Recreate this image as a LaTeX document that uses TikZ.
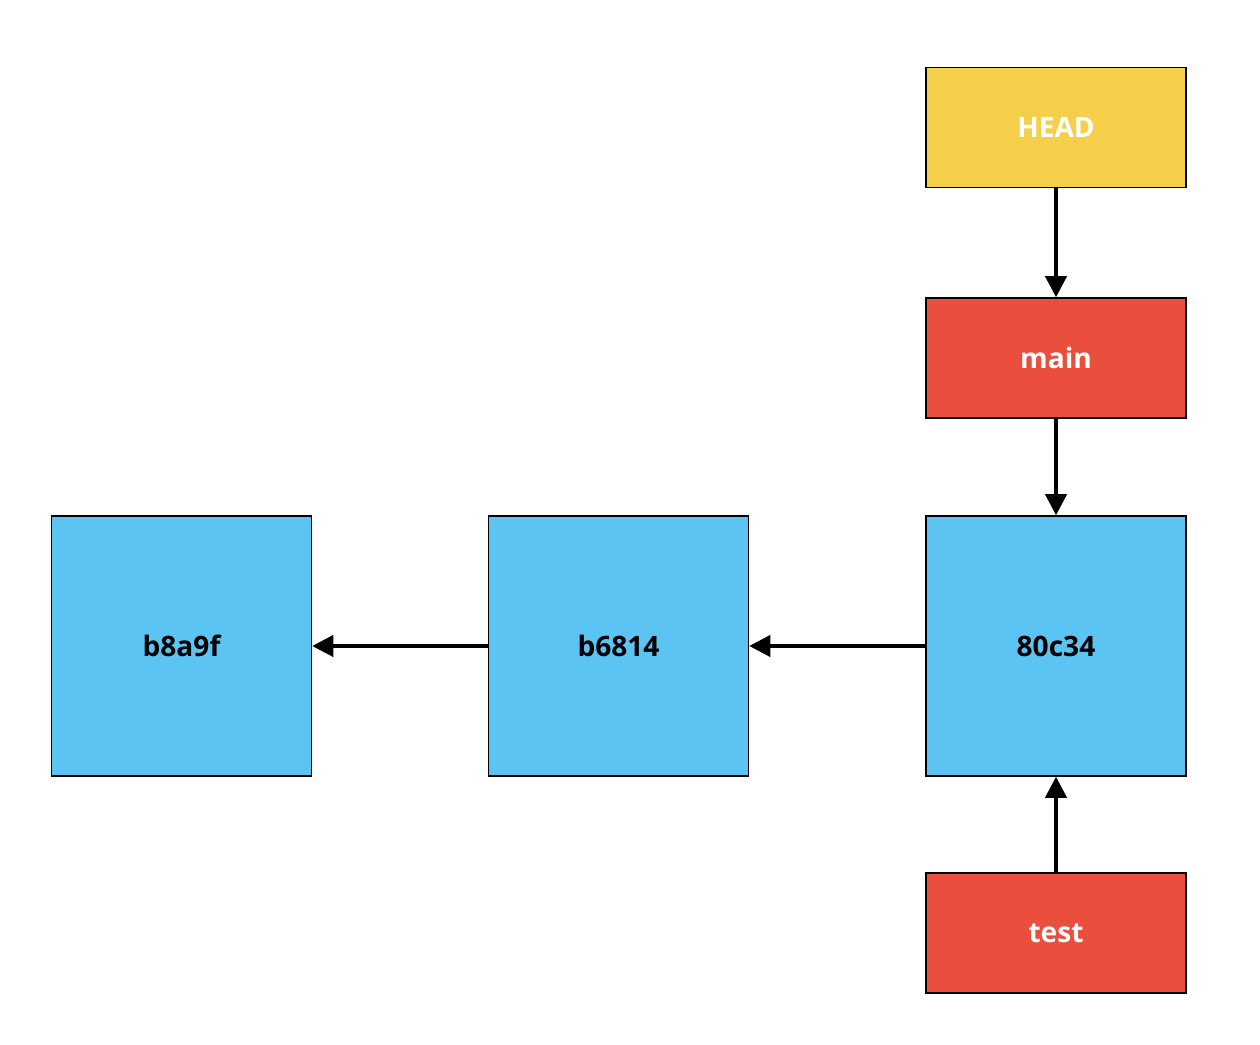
\documentclass[tikz,border=0pt]{standalone}
\usepackage{fontspec}
\setmainfont{Open Sans}
\usetikzlibrary{arrows.meta}
\definecolor{headyellow}{HTML}{F6CF4A}
\definecolor{branchred}{HTML}{E94F3C}
\definecolor{commitblue}{HTML}{5BC4F2}
\begin{document}
\begin{tikzpicture}[
	box/.style={draw, line width=0.8pt, minimum width=5.2cm, inner sep=0pt, font=\fontsize{16}{18}\selectfont\bfseries},
	commit/.style={box, fill=commitblue, minimum height=5.2cm},
	ref/.style={box, text=white, minimum height=2.4cm},
	link/.style={line width=2.2pt, -{Triangle[length=12pt,width=12pt]}}
	]

		\useasboundingbox (0,0) rectangle (25.2,20.9);

		\node[commit] (b8a9f) at (3.63,7.98) {b8a9f};
		\node[commit] (b6814) at (12.37,7.98) {b6814};
		\node[commit] (c80c34) at (21.12,7.98) {80c34};

		\node[ref, fill=headyellow] (head) at (21.12,18.35) {HEAD};
		\node[ref, fill=branchred] (main) at (21.12,13.74) {main};
		\node[ref, fill=branchred] (test) at (21.12,2.24) {test};

		\draw[link] (head) -- (main);
		\draw[link] (main) -- (c80c34);
		\draw[link] (test) -- (c80c34);
		\draw[link] (c80c34) -- (b6814);
		\draw[link] (b6814) -- (b8a9f);
	\end{tikzpicture}
\end{document}
